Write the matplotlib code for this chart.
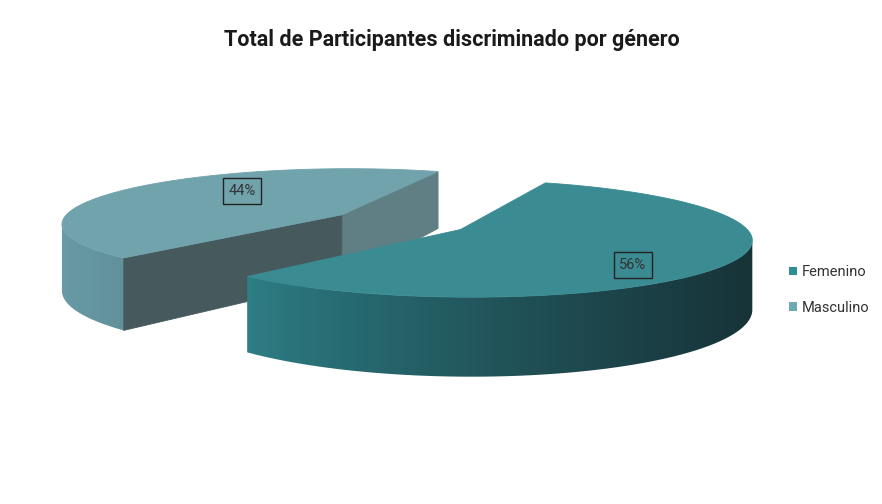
import numpy as np
import matplotlib.pyplot as plt
from matplotlib.patches import Polygon, Patch

# data
labels = ["Femenino", "Masculino"]
values = [56, 44]
pct_text = ["56%", "44%"]

# colours (top face, wall light, wall dark, radial faces)
top_colors = ["#3a8b92", "#70a3ac"]
wall_light = [(0.18, 0.50, 0.53), (0.41, 0.61, 0.65)]
wall_dark = [(0.09, 0.20, 0.22), (0.38, 0.57, 0.61)]
face_start = ["#2a6a70", "#5f7f85"]
face_end = ["#2a6a70", "#465a5e"]
legend_colors = ["#2e8f98", "#6eaab4"]

# pie geometry (pixel units)
W, H = 882, 504
cx, cy = 400, 222
rx, ry = 281, 55
depth = 66
k = 0.15
explode = 0.25
start = 226.8

fig = plt.figure(figsize=(8.82, 5.04), dpi=100)
ax = fig.add_axes([0, 0, 1, 1])
ax.set_xlim(0, W)
ax.set_ylim(H, 0)
ax.axis("off")


def proj(u, v, z=0.0):
    d = 1 + k * v
    return (cx + rx * u / d, cy - ry * v / d + z * depth / d)


fracs = np.array(values) / sum(values)
edges = start + 360 * np.concatenate([[0], np.cumsum(fracs)])

# draw back slice first
order = [1, 0]
for layer, i in enumerate(order):
    a0, a1 = edges[i], edges[i + 1]
    mid = np.radians((a0 + a1) / 2)
    ou, ov = explode * np.cos(mid), explode * np.sin(mid)
    zb = 10 * layer

    # outer wall: front part of the rim, trimmed at the projected silhouette
    ts = np.linspace(a0, a1, 600)
    vis = np.array([t for t in ts if np.sin(np.radians(t)) < 0.3])
    if len(vis) > 1:
        r = np.radians(vis)
        pu, pv = ou + np.cos(r), ov + np.sin(r)
        top_pts = [proj(u, v, 0) for u, v in zip(pu, pv)]
        xs = np.array([p[0] for p in top_pts])
        j0, j1 = sorted([int(np.argmin(xs)), int(np.argmax(xs))])
        pu, pv = pu[j0:j1 + 1], pv[j0:j1 + 1]
        top_pts = [proj(u, v, 0) for u, v in zip(pu, pv)]
        bot_pts = [proj(u, v, 1) for u, v in zip(pu, pv)]
        wall = Polygon(top_pts + bot_pts[::-1], closed=True, facecolor="none", edgecolor="none")
        ax.add_patch(wall)
        xs = [p[0] for p in top_pts]
        ys = [p[1] for p in top_pts + bot_pts]
        x0, x1 = min(xs) - 1, max(xs) + 1
        y0, y1 = min(ys) - 1, max(ys) + 1
        sg = np.linspace(0, 1, 400) ** 0.8
        lt, dk = np.array(wall_light[i]), np.array(wall_dark[i])
        img = (lt[None, :] + (dk - lt)[None, :] * sg[:, None])[None, :, :]
        im = ax.imshow(img, extent=(x0, x1, y1, y0), aspect="auto", interpolation="bilinear", zorder=zb + 1)
        im.set_clip_path(wall)

    # radial faces
    for a, nrm, fc in [(a0, a0 - 90, face_start[i]), (a1, a1 + 90, face_end[i])]:
        if np.sin(np.radians(nrm)) < 0:
            ru, rv = ou + np.cos(np.radians(a)), ov + np.sin(np.radians(a))
            quad = [proj(ou, ov, 0), proj(ru, rv, 0), proj(ru, rv, 1), proj(ou, ov, 1)]
            ax.add_patch(Polygon(quad, closed=True, facecolor=fc, edgecolor=fc, lw=0.6, zorder=zb + 2))

    # top face
    pts = [proj(ou, ov)]
    for t in np.radians(np.linspace(a0, a1, 200)):
        pts.append(proj(ou + np.cos(t), ov + np.sin(t)))
    ax.add_patch(Polygon(pts, closed=True, facecolor=top_colors[i], edgecolor=top_colors[i], lw=0.6, zorder=zb + 3))

ax.set_xlim(0, W)
ax.set_ylim(H, 0)

# percentage labels
label_xy = [(633, 265), (242, 191)]
for i in range(len(values)):
    ax.text(label_xy[i][0], label_xy[i][1], pct_text[i], fontsize=10.5, color="#333333",
            family=["Roboto", "DejaVu Sans"], ha="center", va="center", zorder=30,
            bbox=dict(boxstyle="square,pad=0.4", facecolor="none", edgecolor="#222222", lw=1))

# title
ax.text(452, 40, "Total de Participantes discriminado por género", fontsize=15.5, fontweight="bold",
        family=["Roboto", "DejaVu Sans"], color="#1a1a1a", ha="center", va="center")

# legend
handles = [Patch(facecolor=legend_colors[i], edgecolor="none", label=labels[i]) for i in range(len(labels))]
ax.legend(handles=handles, loc="center left", bbox_to_anchor=(776 / W, 1 - 290 / H), frameon=False,
          handlelength=0.55, handleheight=0.55, handletextpad=0.3, labelspacing=1.5,
          prop={"family": ["Roboto", "DejaVu Sans"], "size": 10.5}, labelcolor="#333333")

fig.savefig("out.png", dpi=100, facecolor="white")
